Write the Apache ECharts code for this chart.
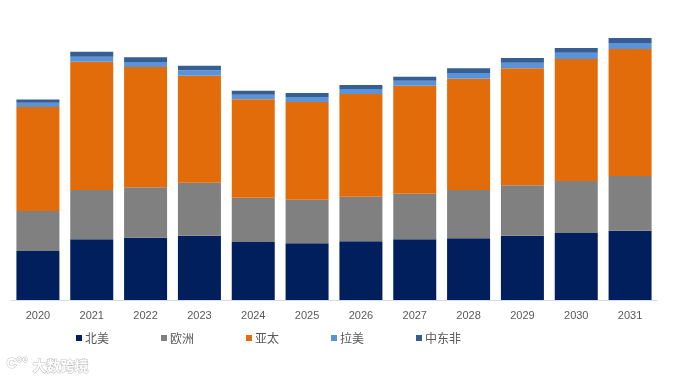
<!DOCTYPE html>
<html>
<head>
<meta charset="utf-8">
<script src="https://cdn.jsdelivr.net/npm/echarts@6/dist/echarts.min.js"></script>
<style>
html,body{margin:0;padding:0;background:#fff;}
#main{width:681px;height:379px;}
</style>
</head>
<body>
<div id="main"></div>
<script>
var categories = ['2020','2021','2022','2023','2024','2025','2026','2027','2028','2029','2030','2031'];
var seriesNames = ['北美','欧洲','亚太','拉美','中东非'];
var northAmerica = [49, 60.7, 62.3, 64.3, 58, 56.7, 58.7, 60.7, 61.7, 64.3, 67, 69.3];
var europe = [40, 49.3, 50.4, 53, 44.3, 43.6, 44.6, 45.6, 48.3, 50.4, 52, 54.7];
var asiaPacific = [104, 128.3, 120.3, 107, 98.4, 97.7, 102.7, 108, 111.3, 117, 122, 127];
var latinAmerica = [4.3, 5, 5, 5.4, 4.6, 5, 5, 5, 5.7, 5.6, 6.3, 6];
var middleEastAfrica = [3.3, 5, 4.7, 4.6, 4, 4, 4, 4, 4.7, 4.7, 4.7, 5];

var colors = ['#001F5C', '#808080', '#E36C0A', '#5B93D8', '#365E93'];
var dataArr = [northAmerica, europe, asiaPacific, latinAmerica, middleEastAfrica];

var chart = echarts.init(document.getElementById('main'), null, {renderer:'canvas'});
var series = seriesNames.map(function(n, i){
  return {
    name: n,
    type: 'bar',
    stack: 'total',
    barWidth: 43,
    data: dataArr[i],
    itemStyle: {color: colors[i]},
    emphasis: {disabled: true}
  };
});
chart.setOption({
  animation: false,
  backgroundColor: '#ffffff',
  color: colors,
  grid: {left: 11, right: 24, top: 30, bottom: 79, containLabel: false},
  legend: {
    data: seriesNames,
    left: 71,
    top: 327,
    itemWidth: 6,
    itemHeight: 6,
    itemGap: 52,
    icon: 'rect',
    textStyle: {color: '#595959', fontSize: 12, fontFamily: 'Noto Sans CJK SC', padding: [0,0,0,-2]}
  },
  xAxis: {
    type: 'category',
    data: categories,
    axisLine: {show: true, lineStyle: {color: '#D6DCE5', width: 1}},
    axisTick: {show: false},
    axisLabel: {color: '#595959', fontSize: 11, fontFamily: 'Liberation Sans', margin: 10}
  },
  yAxis: {
    type: 'value',
    min: 0,
    max: 270,
    show: false,
    splitLine: {show: false}
  },
  graphic: [
    {type: 'text', left: 6, top: 357, style: {text: 'C°°', fill: '#fff', stroke: '#bbbbbb', lineWidth: 1, font: 'bold 14px Liberation Sans'}},
    {type: 'text', left: 32, top: 358, style: {text: '大数跨境', fill: '#ffffff', stroke: '#bbbbbb', lineWidth: 1, font: 'bold 14px "Noto Sans CJK SC"'}}
  ],
  series: series
});
</script>
</body>
</html>
